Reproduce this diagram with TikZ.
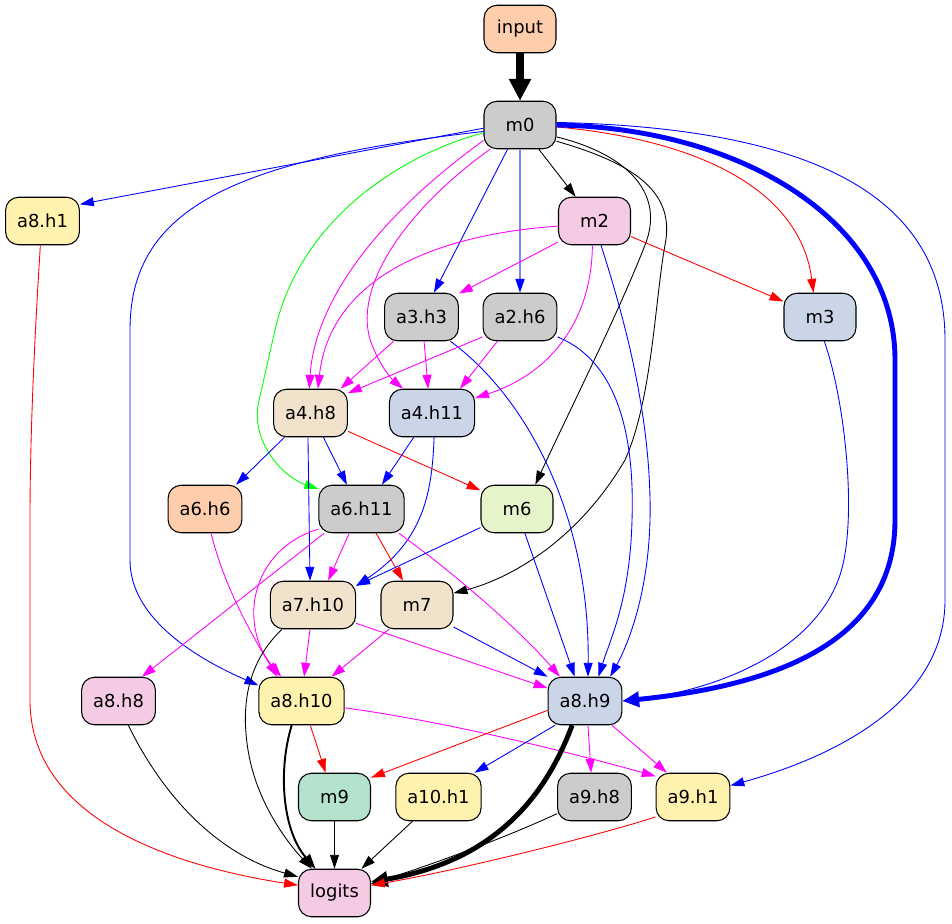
\documentclass[tikz,border=0pt]{standalone}
\usepackage{fontspec}
\setmainfont{DejaVu Sans}
\usetikzlibrary{arrows.meta}
\definecolor{pgray}{HTML}{CCCCCC}
\definecolor{ppeach}{HTML}{FDCDAC}
\definecolor{pblue}{HTML}{CBD5E8}
\definecolor{ppink}{HTML}{F4CAE4}
\definecolor{pgreen}{HTML}{E6F5C9}
\definecolor{pyellow}{HTML}{FFF2AE}
\definecolor{pbeige}{HTML}{F1E2CC}
\definecolor{pmint}{HTML}{B3E2CD}
\definecolor{emag}{RGB}{255,0,255}
\definecolor{egreen}{RGB}{0,255,0}
\definecolor{eblue}{RGB}{0,0,255}
\definecolor{ered}{RGB}{255,0,0}

\begin{document}
\begin{tikzpicture}[x=0.02cm,y=-0.02cm,
    box/.style={draw,line width=0.6pt,rounded corners=0.26cm,minimum width=1.44cm,
      minimum height=0.95cm,inner xsep=0.23cm,font=\fontsize{10.2}{12}\selectfont},
    edge/.style={->,line width=0.5pt},
    heavy/.style={line width=2.8pt,-{Triangle[length=9.5pt,width=8.5pt]}},
    >={Triangle[length=7.9pt,width=5.1pt]}]
\useasboundingbox (0,0) rectangle (952,923);

\node[box,fill=ppeach] (input) at (520,29) {input};
\node[box,fill=pgray] (m0) at (520,125) {m0};
\node[box,fill=pyellow] (a8h1) at (42.5,221) {a8.h1};
\node[box,fill=ppink] (m2) at (594.5,221) {m2};
\node[box,fill=pgray] (a3h3) at (421.5,317) {a3.h3};
\node[box,fill=pgray] (a2h6) at (520,317) {a2.h6};
\node[box,fill=pblue] (m3) at (820,317) {m3};
\node[box,fill=pbeige] (a4h8) at (310.5,413) {a4.h8};
\node[box,fill=pblue] (a4h11) at (432,413) {a4.h11};
\node[box,fill=ppeach] (a6h6) at (205,509) {a6.h6};
\node[box,fill=pgray] (a6h11) at (361.5,509) {a6.h11};
\node[box,fill=pgreen] (m6) at (517,509) {m6};
\node[box,fill=pbeige] (a7h10) at (313,605) {a7.h10};
\node[box,fill=pbeige] (m7) at (417,605) {m7};
\node[box,fill=ppink] (a8h8) at (118.5,701) {a8.h8};
\node[box,fill=pyellow] (a8h10) at (301.5,701) {a8.h10};
\node[box,fill=pblue] (a8h9) at (585,701) {a8.h9};
\node[box,fill=pmint] (m9) at (334.5,797) {m9};
\node[box,fill=pyellow] (a10h1) at (438.5,797) {a10.h1};
\node[box,fill=pgray] (a9h8) at (594.5,797) {a9.h8};
\node[box,fill=pyellow] (a9h1) at (693,797) {a9.h1};
\node[box,fill=ppink] (logits) at (334.5,893) {logits};

\draw[line width=4pt,-{Triangle[length=12.5pt,width=12pt]}] (input) -- (m0);
\draw[edge,eblue] (m0.185) -- (a8h1.24);
\draw[edge,eblue] (m0.190) .. controls (230,160) and (130,210) .. (130,330) -- (130,560)
  .. controls (130,620) and (200,660) .. (a8h10.160);
\draw[edge] (m0) -- (m2);
\draw[edge,eblue] (m0) -- (a3h3);
\draw[eblue!50,line width=1.1pt,-{Triangle[length=7.9pt,width=5.1pt,color=eblue]}] (m0) -- (a2h6);
\draw[edge,ered] (m0.-3) .. controls (700,140) and (800,190) .. (m3.105);
\draw[heavy,eblue] (m0.east) .. controls (740,128) and (895,220) .. (895,360) -- (895,520)
  .. controls (895,640) and (780,685) .. (a8h9.east);
\draw[edge,eblue] (m0.4) .. controls (820,128) and (945,200) .. (945,340) -- (945,600)
  .. controls (945,700) and (840,755) .. (a9h1.17);
\draw[edge] (m0.-18) .. controls (630,155) and (665,195) .. (645,245)
  .. controls (620,310) and (565,420) .. (m6.53);
\draw[edge] (m0.-24) .. controls (640,165) and (675,195) .. (665,245)
  .. controls (655,300) and (652,400) .. (625,460) .. controls (575,545) and (505,580) .. (m7.18);
\draw[edge,emag] (m0.203) .. controls (380,215) and (315,300) .. (a4h8.93);
\draw[edge,emag] (m0.219) .. controls (405,210) and (350,290) .. (372,345)
  .. controls (383,372) and (395,382) .. (a4h11.140);
\draw[edge,egreen] (m0.192) .. controls (400,155) and (300,220) .. (275,330) -- (258,405)
  .. controls (252,445) and (285,478) .. (a6h11.155);

\draw[edge,emag] (m2.210) -- (a3h3.32);
\draw[edge,emag] (m2.188) .. controls (430,235) and (330,280) .. (a4h8.73);
\draw[edge,emag] (m2.265) .. controls (592,310) and (560,370) .. (a4h11.19);
\draw[edge,ered] (m2) -- (m3);
\draw[edge,eblue] (m2.-75) .. controls (625,320) and (652,420) .. (650,520)
  .. controls (648,600) and (625,650) .. (a8h9.44);

\draw[edge,emag] (a3h3.-139) -- (a4h8.39);
\draw[edge,emag] (a3h3.-84) -- (a4h11.99);
\draw[edge,eblue] (a3h3.-40) .. controls (530,400) and (590,520) .. (a8h9.83);
\draw[edge,emag] (a2h6.208) -- (a4h8.28);
\draw[edge,emag] (a2h6.-133) -- (a4h11.41);
\draw[edge,eblue] (a2h6.-28) .. controls (615,360) and (635,430) .. (632,520)
  .. controls (630,600) and (610,640) .. (a8h9.61);
\draw[edge,eblue] (m3.-80) .. controls (845,400) and (858,520) .. (840,575)
  .. controls (815,650) and (720,690) .. (a8h9.east);

\draw[edge,eblue] (a4h8.-137) -- (a6h6.38);
\draw[edge,eblue] (a4h8.-62) -- (a6h11.121);
\draw[edge,ered] (a4h8.-26) -- (m6.153);
\draw[edge,eblue] (a4h8.-96) -- (a7h10.97);
\draw[edge,eblue] (a4h11.-127) -- (a6h11.50);
\draw[edge,eblue] (a4h11.-85) .. controls (432,490) and (425,540) .. (a7h10.24);
\draw[edge,emag] (a6h6.-76) .. controls (225,590) and (255,640) .. (a8h10.135);
\draw[edge,emag] (a6h11.-117) -- (a7h10.58);
\draw[edge,ered] (a6h11.-59) -- (m7.120);
\draw[edge,emag] (a6h11.213) -- (a8h8.46);
\draw[edge,emag] (a6h11.205) .. controls (250,550) and (238,625) .. (a8h10.130);
\draw[edge,emag] (a6h11.-33) .. controls (450,570) and (520,630) .. (a8h9.136);
\draw[edge,eblue] (m6.207) -- (a7h10.24);
\draw[edge,eblue] (m6.-72) -- (a8h9.113);

\draw[edge,emag] (a7h10.-97) -- (a8h10.84);
\draw[edge,emag] (a7h10.-23) -- (a8h9.161);
\draw[edge] (a7h10.-142) .. controls (250,660) and (240,700) .. (248,750)
  .. controls (256,800) and (285,840) .. (logits.133);
\draw[edge,emag] (m7.-139) -- (a8h10.39);
\draw[edge,eblue] (m7.-31) -- (a8h9.147);

\draw[edge] (a8h8.-68) .. controls (165,800) and (220,855) .. (logits.156);
\draw[edge,ered] (a8h10.-70) -- (m9.110);
\draw[edge,emag] (a8h10.-9) .. controls (450,722) and (580,755) .. (a9h1.151);
\draw[line width=1.1pt,-{Triangle[length=8.5pt,width=6pt]}] (a8h10.-112)
  .. controls (278,770) and (282,830) .. (logits.128);
\draw[edge,ered] (a8h9.194) -- (m9.28);
\draw[edge,eblue] (a8h9.-141) -- (a10h1.34);
\draw[edge,emag] (a8h9.-83) -- (a9h8.98);
\draw[edge,emag] (a8h9.-42) -- (a9h1.137);
\draw[heavy] (a8h9.-118) .. controls (548,790) and (500,860) .. (logits.17);

\draw[edge] (m9) -- (logits);
\draw[edge] (a10h1.-137) -- (logits.42);
\draw[edge] (a9h8.204) .. controls (500,840) and (430,865) .. (logits.14);
\draw[edge,ered] (a9h1.-152) .. controls (600,835) and (460,870) .. (logits.12);
\draw[edge,ered] (a8h1.-95) .. controls (35,330) and (30,430) .. (30,520) -- (30,700)
  .. controls (30,830) and (200,870) .. (logits.168);
\end{tikzpicture}
\end{document}
